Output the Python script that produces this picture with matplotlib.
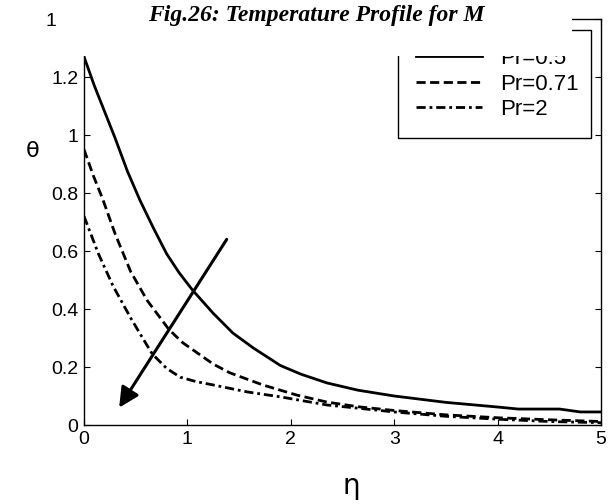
import matplotlib
matplotlib.use('Agg')
import matplotlib.pyplot as plt
from matplotlib.patches import Rectangle

# eta grid and temperature profiles
eta_a = [0, 0.1, 0.2, 0.3, 0.42, 0.54, 0.67, 0.8, 0.92, 1.05, 1.25, 1.44, 1.64, 1.9, 2.1, 2.35,
         2.65, 3.0, 3.5, 4.0, 4.2, 4.6, 4.8, 5.0]
theta_a = [1.27, 1.17, 1.08, 0.99, 0.875, 0.776, 0.68, 0.59, 0.525, 0.465, 0.385, 0.317, 0.265,
           0.205, 0.175, 0.145, 0.12, 0.10, 0.078, 0.062, 0.055, 0.055, 0.045, 0.045]

eta_b = [0, 0.09, 0.18, 0.3, 0.45, 0.61, 0.82, 0.95, 1.09, 1.25, 1.41, 1.73, 2.06, 2.35, 2.65,
         3.0, 3.5, 4.0, 4.5, 5.0]
theta_b = [0.95, 0.86, 0.78, 0.66, 0.53, 0.43, 0.33, 0.285, 0.25, 0.21, 0.18, 0.138, 0.103, 0.079,
           0.063, 0.05, 0.035, 0.025, 0.018, 0.012]

eta_c = [0, 0.14, 0.28, 0.45, 0.55, 0.66, 0.8, 0.93, 1.08, 1.25, 1.58, 1.9, 2.35, 3.0, 3.5, 4.0,
         4.5, 5.0]
theta_c = [0.72, 0.59, 0.48, 0.37, 0.31, 0.245, 0.195, 0.165, 0.15, 0.138, 0.114, 0.097, 0.069,
           0.045, 0.03, 0.02, 0.012, 0.008]

labels = ['Pr=0.5', 'Pr=0.71', 'Pr=2']
xticks = [0, 1, 2, 3, 4, 5]
yticks = [0, 0.2, 0.4, 0.6, 0.8, 1.0, 1.2, 1.4]
ytick_labels = ['0', '0.2', '0.4', '0.6', '0.8', '1', '1.2', '']

plt.rcParams['font.family'] = ['Liberation Sans', 'DejaVu Sans']

W, H = 609, 504
fig = plt.figure(figsize=(W / 100, H / 100), dpi=100)
ax = fig.add_axes([84 / W, (H - 425) / H, (601 - 84) / W, 406 / H])

ax.plot(eta_a, theta_a, color='k', lw=2.0, linestyle='-', label=labels[0])
ax.plot(eta_b, theta_b, color='k', lw=2.0, linestyle=(0, (3.3, 1.6)), label=labels[1])
ax.plot(eta_c, theta_c, color='k', lw=2.0, linestyle=(0, (3.3, 1.4, 1, 1.4)), label=labels[2])

# arrow showing increasing Pr
ax.annotate('', xy=(0.34, 0.06), xytext=(1.38, 0.64),
            arrowprops=dict(arrowstyle='-|>', lw=2.2, color='k', mutation_scale=30,
                            shrinkA=0, shrinkB=0))

ax.set_xlim(0, 5)
ax.set_ylim(0, 1.4)
ax.set_xticks(xticks)
ax.set_yticks(yticks)
ax.set_yticklabels(ytick_labels)
ax.tick_params(direction='in', top=True, right=True, length=4, labelsize=14, pad=4)
for s in ax.spines.values():
    s.set_linewidth(1.0)

ax.set_xlabel('η', fontsize=20, family=['DejaVu Sans'])
ax.xaxis.set_label_coords(0.518, -0.115)
ax.set_ylabel('θ', fontsize=16, rotation=0, family=['DejaVu Sans'])
ax.yaxis.set_label_coords(-0.10, 0.65)

leg = ax.legend(loc='upper left', bbox_to_anchor=(398 / W, 1 - 31 / H, 193 / W, 0.001),
                bbox_transform=fig.transFigure, mode='expand', borderaxespad=0,
                fontsize=16, handlelength=3.0, handletextpad=0.8, labelspacing=0.2,
                borderpad=0.8, fancybox=False, framealpha=1)
leg.get_frame().set_edgecolor('k')
leg.get_frame().set_linewidth(1.0)

# white block over the top of the figure, as in the source image
fig.add_artist(Rectangle((0, 1 - 56 / H), 572 / W, 56 / H, transform=fig.transFigure,
                         facecolor='white', edgecolor='none', zorder=5))

fig.text(316 / W, 1 - 16 / H, 'Fig.26: Temperature Profile for M', ha='center', va='center',
         family='Liberation Serif', weight='bold', style='italic', fontsize=17, zorder=6)
fig.text(51 / W, 1 - 21 / H, '1', ha='center', va='center', fontsize=14, zorder=6)

fig.savefig('out.png', dpi=100)
